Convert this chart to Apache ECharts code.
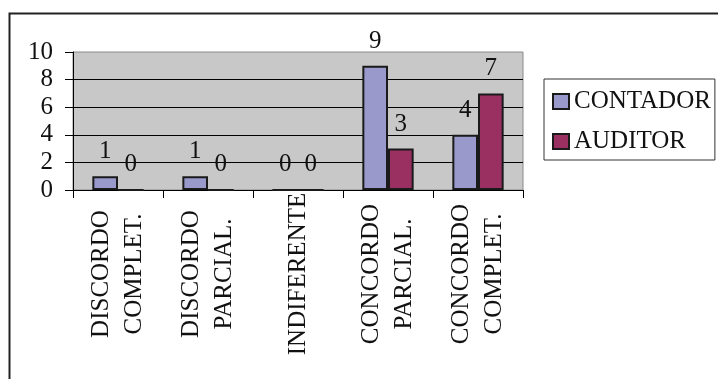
<!DOCTYPE html>
<html>
<head>
<meta charset="utf-8">
<script src="https://cdn.jsdelivr.net/npm/echarts@6/dist/echarts.min.js"></script>
<style>
  html, body { margin: 0; padding: 0; background: #fff; }
  #chart { width: 718px; height: 379px; }
</style>
</head>
<body>
<div id="chart"></div>
<script>
// Answer categories (two-line labels)
const categories = [
  'DISCORDO\nCOMPLET.',
  'DISCORDO\nPARCIAL.',
  'INDIFERENTE',
  'CONCORDO\nPARCIAL.',
  'CONCORDO\nCOMPLET.'
];
const seriesNames = ['CONTADOR', 'AUDITOR'];
const contadorValues = [1, 1, 0, 9, 4];
const auditorValues = [0, 0, 0, 3, 7];
const yTicks = { min: 0, max: 10, interval: 2 };

const FONT = '"Liberation Serif", "Times New Roman", serif';
const textBase = { fontFamily: FONT, fontSize: 25, color: '#111' };

const chart = echarts.init(document.getElementById('chart'), null, { renderer: 'canvas' });

const barLabel = {
  show: true,
  position: 'top',
  distance: 12,
  ...textBase
};

chart.setOption({
  animation: false,
  backgroundColor: '#fff',
  graphic: [{
    type: 'rect',
    left: 7,
    top: 11,
    shape: { width: 900, height: 600 },
    style: { fill: 'none', stroke: '#222', lineWidth: 2 },
    silent: true
  }],
  grid: {
    left: 73,
    top: 52,
    right: 195,
    bottom: 189,
    show: true,
    backgroundColor: '#c8c8c8',
    borderColor: '#8a8a8a',
    borderWidth: 1
  },
  legend: {
    orient: 'vertical',
    left: 544,
    top: 79,
    padding: [10, 4, 6, 8],
    itemGap: 15,
    itemWidth: 16,
    itemHeight: 15,
    borderColor: '#333',
    borderWidth: 1,
    icon: 'rect',
    textStyle: { ...textBase, padding: [0, 0, 0, 0] },
    data: seriesNames
  },
  xAxis: {
    type: 'category',
    data: categories,
    boundaryGap: true,
    axisLine: { show: true, lineStyle: { color: '#000', width: 1 } },
    axisTick: { show: true, length: 8, lineStyle: { color: '#000' } },
    axisLabel: {
      ...textBase,
      rotate: 90,
      align: 'center',
      margin: 84,
      lineHeight: 33,
      interval: 0
    },
    splitLine: { show: false }
  },
  yAxis: {
    type: 'value',
    min: yTicks.min,
    max: yTicks.max,
    interval: yTicks.interval,
    axisLine: { show: true, lineStyle: { color: '#000', width: 1 } },
    axisTick: { show: true, length: 8, lineStyle: { color: '#000' } },
    axisLabel: { ...textBase, margin: 20 },
    splitLine: { show: true, showMaxLine: false, lineStyle: { color: '#000', width: 1 } }
  },
  series: [
    {
      name: seriesNames[0],
      type: 'bar',
      data: contadorValues,
      barGap: '0%',
      barCategoryGap: '43%',
      itemStyle: { color: '#9999cc', borderColor: '#1a1a1a', borderWidth: 2 },
      label: barLabel
    },
    {
      name: seriesNames[1],
      type: 'bar',
      data: auditorValues,
      barGap: '0%',
      barCategoryGap: '43%',
      itemStyle: { color: '#9a2f62', borderColor: '#1a1a1a', borderWidth: 2 },
      label: barLabel
    }
  ]
});
</script>
</body>
</html>
